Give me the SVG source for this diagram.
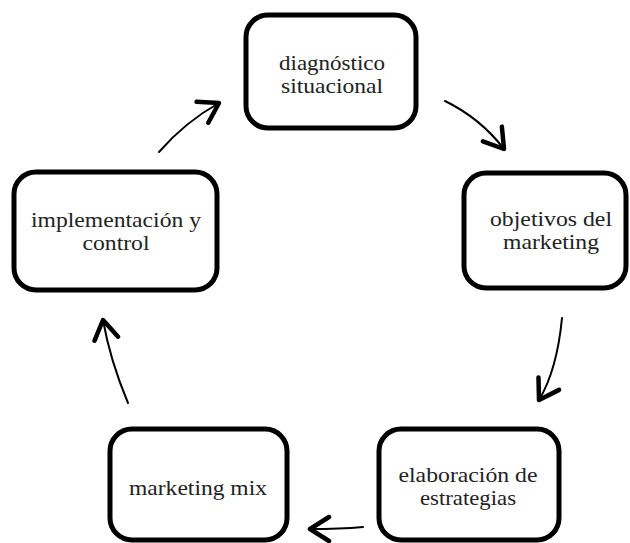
<svg xmlns="http://www.w3.org/2000/svg" width="630" height="543" viewBox="0 0 630 543">
  <defs>
    <style>
      .box { fill: #ffffff; stroke: #000000; stroke-width: 5; }
      .lbl { font-family: "Liberation Serif", "Times New Roman", serif; font-size: 21px; fill: #222222; text-anchor: middle; }
      .conn { fill: none; stroke: #000000; stroke-width: 2; stroke-linecap: round; }
    </style>
    <marker id="head" markerUnits="userSpaceOnUse" markerWidth="40" markerHeight="40" viewBox="-25 -20 30 40" refX="0" refY="0" orient="auto">
      <path d="M-19,-12 L0,0 L-19,12" fill="none" stroke="#000000" stroke-width="4.5" stroke-linecap="round" stroke-linejoin="round"/>
    </marker>
  </defs>
  <rect width="630" height="543" fill="#ffffff"/>

  <g id="connectors">
    <path class="conn" d="M445,101 Q480,118 504,149" marker-end="url(#head)"/>
    <path class="conn" d="M562,318 Q557,370 539,400" marker-end="url(#head)"/>
    <path class="conn" d="M363,527 C340,529 322,529 310,529" marker-end="url(#head)"/>
    <path class="conn" d="M128,403 Q110,360 103,320" marker-end="url(#head)"/>
    <path class="conn" d="M159,152 Q185,122 219,103" marker-end="url(#head)"/>
  </g>

  <g id="node-diagnostico">
    <rect class="box" x="246" y="15" width="170" height="113" rx="22"/>
    <text class="lbl" x="332" y="70" textLength="106" lengthAdjust="spacingAndGlyphs">diagnóstico</text>
    <text class="lbl" x="332" y="93" textLength="102" lengthAdjust="spacingAndGlyphs">situacional</text>
  </g>

  <g id="node-objetivos">
    <rect class="box" x="464" y="173" width="162" height="115" rx="22"/>
    <text class="lbl" x="551" y="226" textLength="122" lengthAdjust="spacingAndGlyphs">objetivos del</text>
    <text class="lbl" x="551" y="249" textLength="96" lengthAdjust="spacingAndGlyphs">marketing</text>
  </g>

  <g id="node-elaboracion">
    <rect class="box" x="379" y="429" width="180" height="111" rx="22"/>
    <text class="lbl" x="468" y="482" textLength="139" lengthAdjust="spacingAndGlyphs">elaboración de</text>
    <text class="lbl" x="468" y="505" textLength="96" lengthAdjust="spacingAndGlyphs">estrategias</text>
  </g>

  <g id="node-marketing-mix">
    <rect class="box" x="110" y="429" width="177" height="111" rx="22"/>
    <text class="lbl" x="198" y="495" textLength="138" lengthAdjust="spacingAndGlyphs">marketing mix</text>
  </g>

  <g id="node-implementacion">
    <rect class="box" x="14" y="172" width="203" height="118" rx="22"/>
    <text class="lbl" x="116" y="227" textLength="170" lengthAdjust="spacingAndGlyphs">implementación y</text>
    <text class="lbl" x="116" y="250" textLength="67" lengthAdjust="spacingAndGlyphs">control</text>
  </g>
</svg>
